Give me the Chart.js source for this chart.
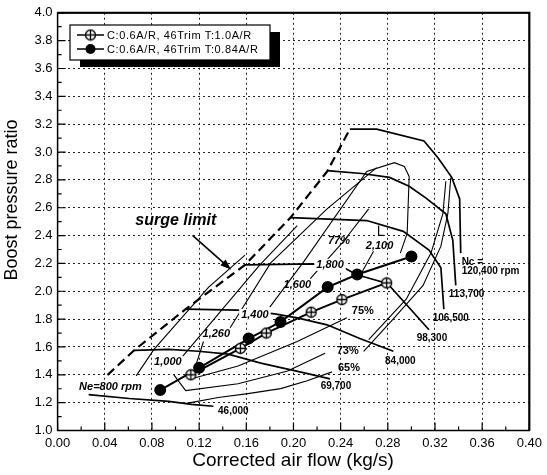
<!DOCTYPE html>
<html>
<head>
<meta charset="utf-8">
<script src="https://cdn.jsdelivr.net/npm/chart.js@4/dist/chart.umd.min.js"></script>
<style>
  body { margin: 0; background: #fff; }
  #wrap { width: 547px; height: 475px; }
</style>
</head>
<body>
<div id="wrap"><canvas id="mapa" width="547" height="475"></canvas></div>
<script>
const FONT = '"Liberation Sans", Arial, sans-serif';

// pontos de operacao (vazao corrigida kg/s, razao de pressao)
const serieNomes = ['C:0.6A/R, 46Trim T:1.0A/R', 'C:0.6A/R, 46Trim T:0.84A/R'];
const tA_x = [0.113, 0.155, 0.177, 0.215, 0.241, 0.279];
const tA_y = [1.40, 1.59, 1.70, 1.85, 1.94, 2.06];
const tB_x = [0.087, 0.120, 0.162, 0.189, 0.229, 0.254, 0.300];
const tB_y = [1.29, 1.45, 1.66, 1.78, 2.03, 2.12, 2.25];

// linha de surge
const surge = [[0.0423, 1.399], [0.0649, 1.576], [0.1086, 1.872], [0.1589, 2.190], [0.1975, 2.529], [0.2285, 2.860], [0.2478, 3.164]];

// linhas de rotacao do compressor (Nc)
const nc120400 = [[0.2478, 3.164], [0.2705, 3.164], [0.3107, 3.079], [0.3225, 2.959], [0.3342, 2.818], [0.3409, 2.663], [0.3418, 2.274]];
const nc113700 = [[0.2285, 2.867], [0.2578, 2.846], [0.2814, 2.818], [0.2981, 2.754], [0.3124, 2.669], [0.3292, 2.557], [0.3351, 2.366], [0.3376, 2.042]];
const nc106500 = [[0.1975, 2.529], [0.2621, 2.508], [0.2931, 2.430], [0.3149, 2.296], [0.3250, 2.169], [0.3275, 1.872]];
const nc106500b = [[0.2722, 2.472], [0.2722, 2.402], [0.2764, 2.402]];
const nc98300 = [[0.1589, 2.190], [0.2176, 2.197], [0.2445, 2.162], [0.2537, 2.119], [0.2797, 2.056], [0.3149, 1.724]];
const nc84000 = [[0.1086, 1.872], [0.1530, 1.865], [0.1841, 1.837], [0.2032, 1.809], [0.2285, 1.759], [0.2562, 1.661], [0.2847, 1.569]];
const nc69700 = [[0.0649, 1.576], [0.0943, 1.583], [0.1195, 1.569], [0.1446, 1.548], [0.1723, 1.484], [0.2092, 1.414], [0.2310, 1.371]];
const nc46000 = [[0.0263, 1.258], [0.0607, 1.230], [0.0943, 1.209], [0.1136, 1.188], [0.1321, 1.174]];

// ilhas de eficiencia
const ef65 = [[0.1094, 1.195], [0.1362, 1.237], [0.1614, 1.265], [0.1891, 1.301], [0.2117, 1.357], [0.2327, 1.421]];
const ef73 = [[0.0986, 1.399], [0.1086, 1.287], [0.1530, 1.336], [0.1950, 1.428], [0.2268, 1.555]];
const ef75 = [[0.1136, 1.371], [0.1530, 1.463], [0.2032, 1.639], [0.2453, 1.809]];
const efDirA = [[0.2595, 1.569], [0.2847, 1.802], [0.3099, 2.042], [0.3250, 2.324], [0.3309, 2.557], [0.3334, 2.818]];
const efDirB = [[0.2638, 1.653], [0.2956, 1.943], [0.3166, 2.274], [0.3267, 2.557], [0.3292, 2.790]];
const ef77 = [[0.1799, 1.886], [0.2092, 2.218], [0.2621, 2.860], [0.2856, 2.924], [0.2940, 2.896], [0.2981, 2.825], [0.2964, 2.416], [0.2906, 2.274]];

// rotacao do motor (Ne)
const ne800 = [[0.0666, 1.392], [0.0817, 1.583], [0.1279, 2.028], [0.1589, 2.260]];
const ne1000 = [[0.1062, 1.534], [0.1448, 1.922], [0.1715, 2.190], [0.2032, 2.472]];
const ne1260 = [[0.1463, 1.738], [0.1807, 2.204], [0.2285, 2.592], [0.2705, 2.888]];
const ne1600 = [[0.2143, 2.091], [0.2411, 2.345], [0.2638, 2.592]];
const ne2100 = [[0.2578, 2.133], [0.2679, 2.288]];
const ne1260b = [[0.1237, 1.639], [0.1178, 1.484]];

const setaSurge = [[0.1144, 2.402], [0.1472, 2.155]];

// textos do mapa: texto, x, y, tipo, fundo branco
const textos = [
  ['46,000', 0.149, 1.138, 'nc'],
  ['69,700', 0.236, 1.315, 'nc'],
  ['84,000', 0.2906, 1.498, 'nc'],
  ['98,300', 0.3174, 1.661, 'nc'],
  ['106,500', 0.3334, 1.809, 'nc'],
  ['113,700', 0.3468, 1.978, 'nc'],
  ['65%', 0.247, 1.449, 'ef'],
  ['73%', 0.246, 1.569, 'ef'],
  ['75%', 0.2588, 1.858, 'ef'],
  ['77%', 0.2386, 2.358, 'ne'],
  ['2,100', 0.273, 2.323, 'ne'],
  ['1,800', 0.231, 2.190, 'ne', true],
  ['1,600', 0.2033, 2.048, 'ne'],
  ['1,400', 0.1673, 1.830, 'ne', true],
  ['1,260', 0.1346, 1.696, 'ne'],
  ['1,000', 0.0935, 1.491, 'ne'],
  ['Ne=800 rpm', 0.0448, 1.315, 'ne'],
];

const fontes = {
  nc: 'bold 10px ' + FONT,
  ef: 'bold 11px ' + FONT,
  ne: 'italic bold 11px ' + FONT,
};

function circuloCruz() {
  const c = document.createElement('canvas');
  c.width = 13; c.height = 13;
  const g = c.getContext('2d');
  g.fillStyle = '#fff';
  g.strokeStyle = '#000';
  g.lineWidth = 1.3;
  g.beginPath(); g.arc(6.5, 6.5, 5, 0, Math.PI * 2); g.fill(); g.stroke();
  g.beginPath();
  g.moveTo(1.5, 6.5); g.lineTo(11.5, 6.5);
  g.moveTo(6.5, 1.5); g.lineTo(6.5, 11.5);
  g.stroke();
  return c;
}
const marcaAberta = circuloCruz();

function curva(pts, largura, tracejado) {
  return {
    data: pts.map(p => ({ x: p[0], y: p[1] })),
    showLine: true,
    borderColor: '#000',
    borderWidth: largura,
    borderDash: tracejado || [],
    pointRadius: 0,
    tension: 0,
    order: 5
  };
}

function serie(xs, ys, marca) {
  return {
    data: xs.map((x, i) => ({ x: x, y: ys[i] })),
    showLine: true,
    borderColor: '#000',
    borderWidth: 2,
    pointStyle: marca,
    pointRadius: 5,
    backgroundColor: '#000',
    pointBorderColor: '#000',
    tension: 0,
    order: 1
  };
}

//desenha moldura, ticks internos, textos, seta e legenda
const decoracao = {
  id: 'decoracao',
  afterDatasetsDraw(chart) {
    const ctx = chart.ctx;
    const a = chart.chartArea;
    const sx = chart.scales.x, sy = chart.scales.y;
    const P = p => [sx.getPixelForValue(p[0]), sy.getPixelForValue(p[1])];
    ctx.save();

    ctx.strokeStyle = '#000';
    ctx.lineWidth = 1.5;
    ctx.strokeRect(a.left, a.top, a.right - a.left, a.bottom - a.top);
    ctx.lineWidth = 2;
    ctx.beginPath();
    ctx.moveTo(a.left, a.top); ctx.lineTo(a.right, a.top); ctx.lineTo(a.right, a.bottom);
    ctx.stroke();

    ctx.lineWidth = 1.2;
    ctx.beginPath();
    for (let i = 0; i <= 20; i++) {
      const x = sx.getPixelForValue(i * 0.02);
      const len = i % 2 ? 4 : 8;
      ctx.moveTo(x, a.bottom); ctx.lineTo(x, a.bottom - len);
    }
    for (let i = 0; i <= 30; i++) {
      const y = sy.getPixelForValue(1 + i * 0.1);
      const len = i % 2 ? 4 : 8;
      ctx.moveTo(a.left, y); ctx.lineTo(a.left + len, y);
    }
    ctx.stroke();

    // textos das curvas
    ctx.fillStyle = '#000';
    ctx.textBaseline = 'middle';
    for (const t of textos) {
      const [x, y] = P([t[1], t[2]]);
      ctx.font = fontes[t[3]];
      ctx.textAlign = 'center';
      if (t[4]) {
        const w = ctx.measureText(t[0]).width;
        ctx.fillStyle = '#fff';
        ctx.fillRect(x - w / 2 - 2, y - 6, w + 4, 12);
        ctx.fillStyle = '#000';
      }
      ctx.fillText(t[0], x, y);
    }
    ctx.font = 'bold 10px ' + FONT;
    ctx.textAlign = 'left';
    let q = P([0.3426, 2.210]);
    ctx.fillText('Nc =', q[0], q[1]);
    q = P([0.3426, 2.144]);
    ctx.fillText('120,400 rpm', q[0], q[1]);

    ctx.font = 'italic bold 16px ' + FONT;
    ctx.textAlign = 'center';
    q = P([0.1002, 2.506]);
    ctx.fillText('surge limit', q[0], q[1]);

    // seta apontando a linha de surge
    const [x0, y0] = P(setaSurge[0]);
    const [x1, y1] = P(setaSurge[1]);
    const ang = Math.atan2(y1 - y0, x1 - x0);
    ctx.lineWidth = 1.6;
    ctx.beginPath(); ctx.moveTo(x0, y0); ctx.lineTo(x1 - 6 * Math.cos(ang), y1 - 6 * Math.sin(ang)); ctx.stroke();
    ctx.beginPath();
    ctx.moveTo(x1, y1);
    ctx.lineTo(x1 - 11 * Math.cos(ang) + 4 * Math.sin(ang), y1 - 11 * Math.sin(ang) - 4 * Math.cos(ang));
    ctx.lineTo(x1 - 11 * Math.cos(ang) - 4 * Math.sin(ang), y1 - 11 * Math.sin(ang) + 4 * Math.cos(ang));
    ctx.closePath();
    ctx.fill();

    // legenda com sombra
    ctx.fillStyle = '#000';
    ctx.fillRect(80, 32, 200, 35);
    ctx.fillStyle = '#fff';
    ctx.fillRect(70, 25, 200, 35);
    ctx.lineWidth = 1.2;
    ctx.strokeRect(70, 25, 200, 35);
    ctx.font = '11px ' + FONT;
    ctx.letterSpacing = '0.6px';
    ctx.textAlign = 'left';
    const linhas = [35, 49];
    linhas.forEach((ly, i) => {
      ctx.strokeStyle = '#000';
      ctx.lineWidth = 1.5;
      ctx.beginPath(); ctx.moveTo(77, ly); ctx.lineTo(104, ly); ctx.stroke();
      if (i === 0) {
        ctx.drawImage(marcaAberta, 90.5 - 6.5, ly - 6.5);
      } else {
        ctx.fillStyle = '#000';
        ctx.beginPath(); ctx.arc(90.5, ly, 5, 0, Math.PI * 2); ctx.fill();
      }
      ctx.fillStyle = '#000';
      ctx.fillText(serieNomes[i], 107, ly + 0.5);
    });
    ctx.letterSpacing = '0px';

    // titulos dos eixos
    ctx.font = '19px ' + FONT;
    ctx.textAlign = 'center';
    ctx.fillText('Corrected air flow (kg/s)', 293, 461);
    ctx.translate(12, 200);
    ctx.rotate(-Math.PI / 2);
    ctx.font = '18px ' + FONT;
    ctx.fillText('Boost pressure ratio', 0, 0);
    ctx.restore();
  }
};

const ctx = document.getElementById('mapa').getContext('2d');

const grafico = new Chart(ctx, {
  type: 'scatter',
  data: {
    datasets: [
      serie(tA_x, tA_y, marcaAberta),
      serie(tB_x, tB_y, 'circle'),
      curva(surge, 2.2, [9, 5]),
      curva(nc120400, 1.7),
      curva(nc113700, 1.7),
      curva(nc106500, 1.7),
      curva(nc106500b, 1.2),
      curva(nc98300, 1.7),
      curva(nc84000, 1.7),
      curva(nc69700, 1.7),
      curva(nc46000, 1.7),
      curva(ef65, 1.1),
      curva(ef73, 1.1),
      curva(ef75, 1.1),
      curva(efDirA, 1.1),
      curva(efDirB, 1.1),
      curva(ef77, 1.1),
      curva(ne800, 1.1),
      curva(ne1000, 1.1),
      curva(ne1260, 1.1),
      curva(ne1600, 1.1),
      curva(ne2100, 1.1),
      curva(ne1260b, 1.1)
    ]
  },
  options: {
    responsive: false,
    animation: false,
    events: [],
    layout: { padding: { left: 0, right: 13, top: 7, bottom: 0 }, autoPadding: false },
    plugins: { legend: { display: false }, tooltip: { enabled: false } },
    scales: {
      x: {
        type: 'linear', min: 0, max: 0.4,
        afterFit: s => { s.height = 44.5; },
        ticks: {
          stepSize: 0.04, autoSkip: false, maxRotation: 0, padding: 5, color: '#000',
          font: { size: 13, family: FONT },
          callback: v => Number(v).toFixed(2)
        },
        grid: { color: '#222', lineWidth: 1, drawTicks: false },
        border: { display: false, dash: [2, 3] }
      },
      y: {
        type: 'linear', min: 1, max: 4,
        afterFit: s => { s.width = 57.6; },
        ticks: {
          stepSize: 0.2, padding: 5, color: '#000',
          font: { size: 13, family: FONT },
          callback: v => Number(v).toFixed(1)
        },
        grid: { color: '#222', lineWidth: 1, drawTicks: false },
        border: { display: false, dash: [2, 3] }
      }
    }
  },
  plugins: [decoracao]
});
</script>
</body>
</html>
